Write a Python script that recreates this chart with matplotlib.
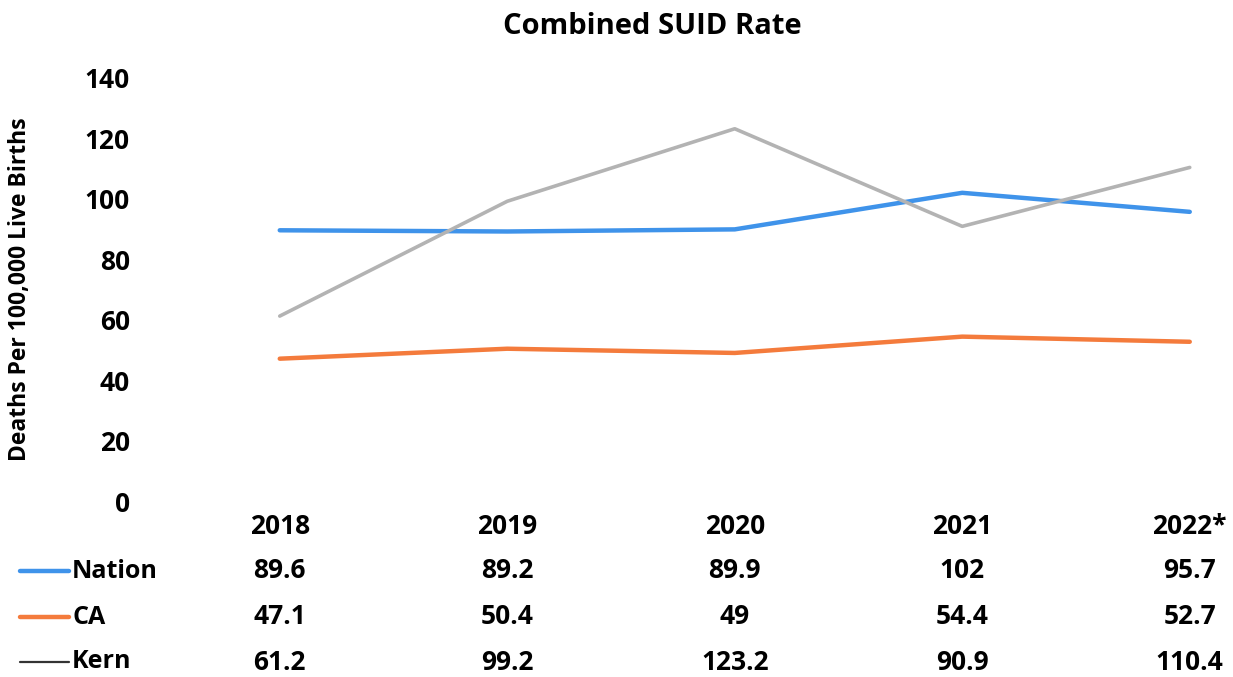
import matplotlib
matplotlib.use("Agg")
from matplotlib import pyplot as plt
from matplotlib import transforms

years = ["2018", "2019", "2020", "2021", "2022*"]
nation = [89.6, 89.2, 89.9, 102, 95.7]
ca = [47.1, 50.4, 49, 54.4, 52.7]
kern = [61.2, 99.2, 123.2, 90.9, 110.4]
yticks = [0, 20, 40, 60, 80, 100, 120, 140]

series = [
    ("Nation", nation, "#3f93ea", "#3f93ea", 3.2),
    ("CA", ca, "#f47b3c", "#f47b3c", 3.2),
    ("Kern", kern, "#b3b3b3", "#333333", 1.6),
]

plt.rcParams['font.family'] = ['Open Sans', 'DejaVu Sans']
plt.rcParams['font.weight'] = 'bold'
FS = 19

W, H = 1233, 677
fig = plt.figure(figsize=(W / 100, H / 100), dpi=100)
# axes box in pixel terms: left 166, right edge of figure, y=0 at 501, y=140 at 78
ax = fig.add_axes([166 / W, 1 - 501 / H, (W - 166) / W, (501 - 78) / H])
ax.set_xlim(-0.5, -0.5 + (W - 166) / 227.5)
ax.set_ylim(0, 140)

x = list(range(len(years)))
for name, vals, col, keycol, lw in series:
    ax.plot(x, vals, color=col, lw=lw if name != "Kern" else 2.6, solid_capstyle='round')

for s in ax.spines.values():
    s.set_visible(False)
ax.set_xticks([])
ax.set_yticks(yticks)
ax.set_yticklabels([str(v) for v in yticks], fontsize=FS, fontweight='bold')
ax.tick_params(axis='y', length=0, pad=26)
ax.set_ylabel("Deaths Per 100,000 Live Births", fontsize=16.5, fontweight='bold')
ax.yaxis.set_label_coords(-134 / (W - 166), 0.5)

fig.text(652 / W, 1 - 27 / H, "Combined SUID Rate", ha='center', va='center',
         fontsize=21, fontweight='bold')

# data table under the chart
blend = transforms.blended_transform_factory(ax.transData, fig.transFigure)
for i, yr in enumerate(years):
    ax.text(i, 1 - 527 / H, yr, transform=blend, ha='center', va='center',
            fontsize=FS, fontweight='bold', clip_on=False)

row_y = [571, 617, 662]
for (name, vals, col, keycol, lw), ry in zip(series, row_y):
    yf = 1 - ry / H
    fig.add_artist(plt.Line2D([20 / W, 69 / W], [yf, yf], color=keycol, lw=lw,
                              solid_capstyle='round'))
    fig.text(72 / W, yf, name, ha='left', va='center', fontsize=FS - 1, fontweight='bold')
    for i, v in enumerate(vals):
        ax.text(i, yf, "%g" % v, transform=blend, ha='center', va='center',
                fontsize=FS, fontweight='bold', clip_on=False)

fig.savefig("out.png", dpi=100)
